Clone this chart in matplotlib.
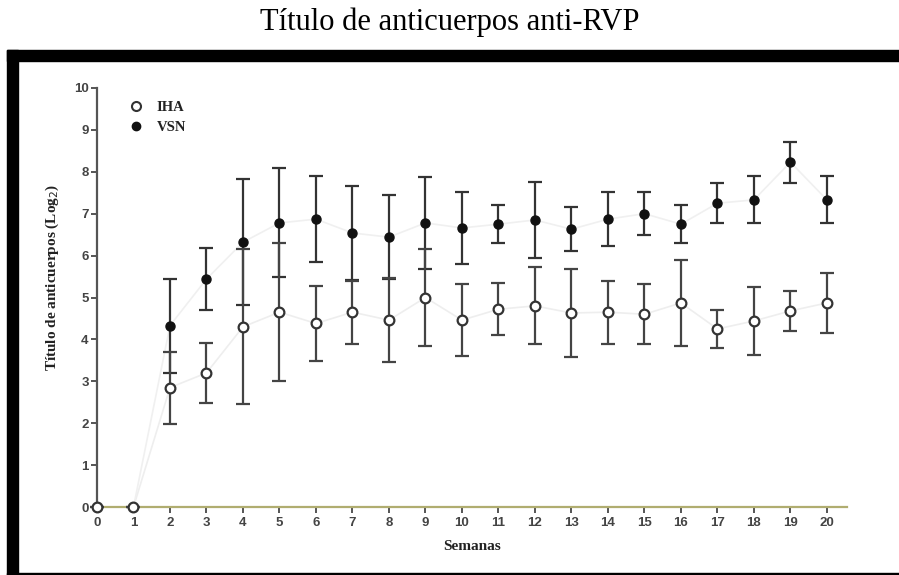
import matplotlib.pyplot as plt
from matplotlib.patches import Rectangle
from matplotlib.lines import Line2D

# weeks and titres (log2)
weeks_iha = list(range(0, 21))
iha_mean = [0, 0, 2.85, 3.2, 4.3, 4.65, 4.38, 4.65, 4.46, 5.0, 4.46,
            4.72, 4.8, 4.63, 4.65, 4.6, 4.87, 4.25, 4.44, 4.68, 4.87]
iha_err = [0, 0, 0.86, 0.72, 1.85, 1.65, 0.9, 0.75, 1.0, 1.15, 0.86,
           0.62, 0.92, 1.05, 0.75, 0.72, 1.02, 0.45, 0.82, 0.48, 0.72]

weeks_vsn = list(range(2, 21))
vsn_mean = [4.33, 5.44, 6.32, 6.78, 6.87, 6.54, 6.44, 6.78, 6.66, 6.75,
            6.85, 6.63, 6.87, 7.0, 6.75, 7.25, 7.33, 8.23, 7.33]
vsn_err = [1.12, 0.73, 1.5, 1.3, 1.03, 1.12, 1.0, 1.1, 0.86, 0.45,
           0.9, 0.53, 0.65, 0.52, 0.46, 0.48, 0.56, 0.49, 0.56]

serif = 'Liberation Serif'
sans = 'Liberation Sans'

fig = plt.figure(figsize=(8.99, 5.75), dpi=100)
ax = fig.add_axes([97/899, 1 - 507/575, 750/899, (507 - 88)/575])

# faint connecting lines (as in the scanned figure)
ax.plot(weeks_iha, iha_mean, color='#eeeeee', lw=1.2, zorder=1)
ax.plot([1] + weeks_vsn, [0] + vsn_mean, color='#f0f0f0', lw=1.2, zorder=1)

ax.errorbar(weeks_vsn, vsn_mean, yerr=vsn_err, fmt='o', ms=6.5,
            color='#111111', mfc='#111111', mec='#111111', ecolor='#333333',
            elinewidth=1.6, capsize=5, capthick=1.6, zorder=3)
ax.errorbar(weeks_iha, iha_mean, yerr=iha_err, fmt='o', ms=7,
            color='#333333', mfc='white', mec='#333333', mew=1.6,
            ecolor='#444444', elinewidth=1.6, capsize=5, capthick=1.6, zorder=4)

ax.set_xlim(0, 20.55)
ax.set_ylim(0, 10)
ax.set_xticks(range(0, 21))
ax.set_yticks(range(0, 11))
for s in ['top', 'right']:
    ax.spines[s].set_visible(False)
ax.spines['left'].set_color('#555555')
ax.spines['left'].set_linewidth(1.6)
ax.spines['bottom'].set_color('#b0ad70')
ax.spines['bottom'].set_linewidth(1.6)
ax.tick_params(axis='both', colors='#555555', width=1.4, length=4)
ax.tick_params(axis='x', pad=3)
ax.tick_params(axis='y', pad=2)
for lab in ax.get_xticklabels() + ax.get_yticklabels():
    lab.set_fontfamily(sans)
    lab.set_fontweight('bold')
    lab.set_fontsize(9.5)
    lab.set_color('#444444')
for c in ax.get_children():
    c.set_clip_on(False)

ax.set_xlabel('Semanas', fontfamily=serif, fontweight='bold', fontsize=11,
              color='#222222', labelpad=8)
fig.text(52/899, 1 - 277/575, 'Título de anticuerpos (Log$_2$)',
         rotation=90, ha='center', va='center', fontfamily=serif,
         fontweight='bold', fontsize=11, color='#222222')

handles = [Line2D([0], [0], marker='o', ls='none', mfc='white', mec='#333333',
                  mew=1.5, ms=6.5, label='IHA'),
           Line2D([0], [0], marker='o', ls='none', mfc='#111111', mec='#111111',
                  ms=6, label='VSN')]
leg = ax.legend(handles=handles, loc='upper left', bbox_to_anchor=(0.015, 1.0),
                frameon=False, handletextpad=0.4, labelspacing=0.45,
                prop={'family': serif, 'weight': 'bold', 'size': 10.5})
for t in leg.get_texts():
    t.set_color('#222222')

fig.suptitle('Título de anticuerpos anti-RVP', y=1 - 22/575, va='center',
             fontfamily=serif, fontsize=22)

# frame of the scanned figure
fig.patches.append(Rectangle((7/899, 0), 11/899, 1 - 50/575,
                             transform=fig.transFigure, color='black'))
fig.patches.append(Rectangle((7/899, 1 - 61/575), 892/899, 11/575,
                             transform=fig.transFigure, color='black'))
fig.patches.append(Rectangle((7/899, 0), 892/899, 2.5/575,
                             transform=fig.transFigure, color='black'))

fig.savefig('out.png', dpi=100)
